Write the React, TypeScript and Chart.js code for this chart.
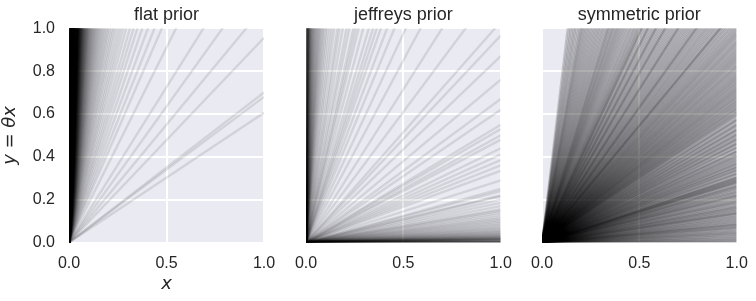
import React, { useEffect, useRef } from "react";
import { Chart, registerables } from "chart.js";

Chart.register(...registerables);

const panelTitles = ["flat prior", "jeffreys prior", "symmetric prior"];
const xTickValues = [0, 0.5, 1];
const yTickValues = [0, 0.2, 0.4, 0.6, 0.8, 1];
const xAxisLabel = "x";
const yAxisLabel = "y = θx";

const flatSlopes = [
  0.606, 0.68, 0.7, 0.956,
  1.1, 1.27, 1.45, 1.82,
  2.1, 2.28, 2.47, 2.66, 2.85, 3.02, 3.2, 3.41, 3.6, 3.78, 3.97, 4.18, 4.37, 4.55, 4.76, 4.95,
  5.12, 5.33, 5.5, 5.71, 5.9, 6.08, 6.3, 6.47, 6.66, 6.87, 7.05, 7.24, 7.43, 7.62, 7.8, 8.01,
  8.2, 8.38, 8.59, 8.77, 8.96, 9.18, 9.37, 9.55, 9.78, 9.95,
  10.15, 10.34, 10.52, 10.73, 10.9, 11.12, 11.3, 11.5, 11.71, 11.88, 12.1, 12.27, 12.5, 12.68,
  12.9, 13.07, 13.3, 13.48, 13.7, 13.88, 14.1, 14.3, 14.48, 14.7, 14.9, 15.08, 15.3, 15.5, 15.68,
  15.9, 16.1, 16.3, 16.47, 16.7, 16.88, 17.1, 17.28, 17.5, 17.7, 17.9, 18.08, 18.3, 18.5, 18.68,
  18.9, 19.1, 19.3, 19.48, 19.7, 19.9, 20.1, 20.28, 20.5, 20.7, 20.88, 21.1, 21.3, 21.48, 21.7,
  21.9, 22.1, 22.28, 22.5, 22.7, 22.9, 23.1, 23.3, 23.48, 23.7, 23.9, 24.1, 24.3, 24.5, 24.7, 24.9,
  25.0, 25.4, 25.9, 26.2, 26.6, 27.0, 27.5, 27.8, 28.2, 28.7, 29.1, 29.4, 29.9, 30.3, 30.6, 31.1,
  31.5, 31.8, 32.3, 32.7, 33.1, 33.5, 33.8, 34.3, 34.7, 35.2, 35.5, 35.9, 36.4, 36.8, 37.1, 37.6,
  38.0, 38.4, 38.8, 39.3, 39.6, 40.1, 40.5, 40.8, 41.3, 41.7, 42.2, 42.5, 43.0, 43.4, 43.7, 44.2,
  44.6, 45.1, 45.4, 45.9, 46.3, 46.7, 47.2, 47.5, 48.0, 48.4, 48.8, 49.3, 49.6, 50.1, 50.6, 51.0,
  51.3, 51.8, 52.2, 52.7, 53.0, 53.5, 53.9, 54.3, 54.8, 55.1, 55.6, 56.0, 56.5, 56.9, 57.3, 57.7,
  58.2, 58.5, 59.0, 59.4, 59.9,
  61, 63, 65, 67.5, 70, 72.5, 75, 78, 81, 84, 87.5, 91, 95, 99, 103, 108, 113, 118, 124, 130,
  137, 144, 152, 160, 170, 180, 192, 205, 220, 236, 255, 275, 300, 330, 365, 405, 450, 500, 560,
  640, 740, 860, 1000,
];

const jeffreysSlopes = [
  0.00005, 0.0002, 0.0006, 0.0011, 0.0019, 0.0028, 0.004, 0.0055, 0.0072, 0.0088,
  0.0104, 0.0118, 0.0135, 0.0146, 0.0158, 0.017, 0.0183, 0.0197, 0.021, 0.0228,
  0.0245, 0.0265, 0.0285, 0.031, 0.0335, 0.036, 0.039, 0.042, 0.0455, 0.049, 0.053, 0.057, 0.062,
  0.067, 0.072, 0.078, 0.084, 0.091, 0.098,
  0.105, 0.112, 0.12, 0.13, 0.14, 0.148, 0.155, 0.17, 0.185, 0.2, 0.215, 0.22, 0.24, 0.25, 0.29,
  0.335, 0.36, 0.385, 0.41, 0.44, 0.48, 0.5, 0.53, 0.55, 0.62, 0.67, 0.76, 0.87, 0.966,
  1.03, 1.22, 1.43, 1.7, 1.95, 2.2, 2.4, 2.6, 2.75, 2.9, 3.1, 3.4, 3.7, 3.9, 4.1, 4.5, 4.8, 5.3,
  5.8, 6.2, 6.9, 7.5, 8.2, 9.0, 9.7,
  10.5, 11.2, 12, 12.8, 13.6, 14.5, 15.3, 16.2, 17.2, 18.4, 19.6, 20.8, 22.3, 23.8, 25.4, 27.2,
  29, 31.2, 33.5, 36, 38.6, 41.4, 44.5, 48, 51.5, 55.3, 59.4, 64, 69, 74.5, 80.3, 86.5, 93,
  110, 140, 190, 260, 380, 560, 900, 1500, 3000, 8000,
];

const symmetricSlopes = [
  0.001, 0.004, 0.009, 0.012, 0.017, 0.021, 0.026, 0.03, 0.036, 0.039, 0.044, 0.047, 0.052, 0.056,
  0.061, 0.066, 0.069, 0.073, 0.078, 0.081, 0.084, 0.088, 0.092, 0.097, 0.101, 0.105, 0.11, 0.114,
  0.12, 0.123, 0.129, 0.133, 0.136, 0.139, 0.143, 0.148, 0.152, 0.156, 0.161, 0.164, 0.169, 0.172,
  0.179, 0.183, 0.188, 0.191, 0.195, 0.2, 0.205, 0.21, 0.215, 0.218, 0.221, 0.225, 0.231, 0.235,
  0.238, 0.244, 0.249, 0.252, 0.258, 0.261, 0.264, 0.269, 0.275, 0.279, 0.282, 0.285, 0.289, 0.292,
  0.296, 0.299,
  0.302, 0.306, 0.31, 0.318, 0.321, 0.324, 0.332, 0.336, 0.339, 0.346, 0.349, 0.354, 0.358, 0.364,
  0.368, 0.372, 0.377, 0.383, 0.387, 0.392, 0.398, 0.402, 0.407, 0.411, 0.418, 0.423, 0.426, 0.43,
  0.439, 0.443, 0.446, 0.455, 0.459, 0.463, 0.467, 0.476, 0.48, 0.484, 0.489, 0.497, 0.501, 0.506,
  0.511, 0.519, 0.524, 0.528, 0.533, 0.542, 0.546, 0.551, 0.556, 0.565, 0.57, 0.575, 0.579, 0.589,
  0.594, 0.599,
  0.605, 0.61, 0.615, 0.621, 0.626, 0.631, 0.637, 0.642, 0.647, 0.653, 0.659, 0.664, 0.67, 0.676,
  0.681, 0.687, 0.693, 0.699, 0.705, 0.71, 0.716, 0.722, 0.728, 0.734, 0.741, 0.747, 0.753, 0.76,
  0.766, 0.772, 0.779, 0.785, 0.792, 0.799, 0.806, 0.813, 0.82, 0.826, 0.833, 0.841, 0.848, 0.855,
  0.862, 0.87, 0.877, 0.885, 0.893, 0.9, 0.908, 0.916, 0.924, 0.932, 0.94, 0.948, 0.957, 0.965,
  0.973, 0.981, 0.99, 0.998,
  1.008, 1.016, 1.027, 1.036, 1.046, 1.057, 1.066, 1.077, 1.087, 1.092, 1.097, 1.108, 1.12, 1.13,
  1.142, 1.153, 1.165, 1.177, 1.188, 1.2, 1.213, 1.226, 1.238, 1.252, 1.26, 1.266, 1.279, 1.293,
  1.307, 1.322, 1.337, 1.352, 1.368, 1.383, 1.4, 1.416, 1.43, 1.433, 1.45, 1.468, 1.486, 1.505,
  1.524, 1.544, 1.564, 1.58, 1.585, 1.606, 1.628, 1.65, 1.673, 1.696, 1.71, 1.72, 1.745, 1.77,
  1.796, 1.823, 1.84, 1.85, 1.88, 1.91, 1.94, 1.955, 1.97, 2.0,
  2.02, 2.05, 2.08, 2.11, 2.14, 2.18, 2.21, 2.25, 2.29, 2.33, 2.37, 2.41, 2.45, 2.49, 2.53, 2.57,
  2.61, 2.65, 2.7, 2.74, 2.78, 2.83, 2.88, 2.93, 2.97,
  3.03, 3.1, 3.17, 3.24, 3.32, 3.4, 3.48, 3.57, 3.66, 3.76, 3.86, 3.97, 4.08, 4.2, 4.32, 4.45,
  4.58, 4.72, 4.86, 4.98,
  5.15, 5.35, 5.6, 5.85, 6.1, 6.4, 6.75, 7.1, 7.6,
];

const TEXT_FONT = "'Liberation Sans', Arial, sans-serif";
const MATH_FONT = "'DejaVu Sans', sans-serif";
const TEXT_COLOR = "#262626";

const bgPlugin = {
  id: "panelBg",
  beforeDraw(chart: any) {
    const { ctx, chartArea } = chart;
    if (!chartArea) return;
    ctx.save();
    ctx.fillStyle = "#EAEAF2";
    ctx.fillRect(chartArea.left, chartArea.top, chartArea.right - chartArea.left, chartArea.bottom - chartArea.top);
    ctx.restore();
  },
};

const titlePlugin = {
  id: "panelTitle",
  afterDraw(chart: any, _args: any, opts: any) {
    const { ctx, chartArea } = chart;
    ctx.save();
    ctx.font = `18px ${TEXT_FONT}`;
    ctx.fillStyle = TEXT_COLOR;
    ctx.textAlign = "center";
    ctx.textBaseline = "middle";
    ctx.fillText(opts.text, (chartArea.left + chartArea.right) / 2, opts.y);
    ctx.restore();
  },
};

type PanelProps = {
  slopes: number[];
  title: string;
  showY: boolean;
  showXLabel: boolean;
  left: number;
  width: number;
  padLeft: number;
  padRight: number;
  yAxisWidth: number;
  alpha: number;
  lineWidth: number;
};

function Panel(p: PanelProps) {
  const ref = useRef<HTMLCanvasElement>(null);
  useEffect(() => {
    const canvas = ref.current!;
    const datasets = p.slopes.map((s) => ({
      data: [
        { x: 0, y: 0 },
        { x: 1, y: s },
      ],
      borderColor: `rgba(0,0,0,${p.alpha})`,
      borderWidth: p.lineWidth,
      pointRadius: 0,
      tension: 0,
      fill: false,
    }));
    const chart = new Chart(canvas, {
      type: "line",
      data: { datasets },
      plugins: [bgPlugin as any, titlePlugin as any],
      options: {
        animation: false,
        responsive: false,
        devicePixelRatio: 1,
        events: [],
        layout: { padding: { left: p.padLeft, right: p.padRight, top: 28.3, bottom: 0 } },
        plugins: {
          legend: { display: false },
          tooltip: { enabled: false },
          title: { display: false },
          panelTitle: { text: p.title, y: 15.5 },
        } as any,
        scales: {
          x: {
            type: "linear",
            min: 0,
            max: 1,
            afterBuildTicks: (s: any) => {
              s.ticks = xTickValues.map((v) => ({ value: v }));
            },
            afterFit: (s: any) => {
              s.height = 58.5;
              s.paddingLeft = 0;
              s.paddingRight = 0;
            },
            border: { display: false },
            grid: { color: "#FFFFFF", lineWidth: 2, drawTicks: false },
            ticks: {
              padding: 11,
              color: TEXT_COLOR,
              font: { family: TEXT_FONT, size: 16 },
              maxRotation: 0,
              callback: (v: any) => Number(v).toFixed(1),
            },
            title: {
              display: p.showXLabel,
              text: xAxisLabel,
              color: TEXT_COLOR,
              font: { family: MATH_FONT, size: 18, style: "italic" },
              padding: { top: 0, bottom: 5.7 },
            },
          },
          y: {
            type: "linear",
            min: 0,
            max: 1,
            afterBuildTicks: (s: any) => {
              s.ticks = yTickValues.map((v) => ({ value: v }));
            },
            afterFit: (s: any) => {
              s.width = p.yAxisWidth;
              s.paddingTop = 0;
              s.paddingBottom = 0;
            },
            border: { display: false },
            grid: { color: "#FFFFFF", lineWidth: 2, drawTicks: false },
            ticks: {
              display: p.showY,
              padding: 14,
              color: TEXT_COLOR,
              font: { family: TEXT_FONT, size: 16 },
              callback: (v: any) => Number(v).toFixed(1),
            },
            title: {
              display: p.showY,
              text: yAxisLabel,
              color: TEXT_COLOR,
              font: { family: MATH_FONT, size: 18, style: "italic" },
              padding: { top: 0, bottom: 0 },
            },
          },
        },
      } as any,
    });
    return () => chart.destroy();
  }, []);
  return (
    <canvas
      ref={ref}
      width={p.width}
      height={301}
      style={{ position: "absolute", left: p.left, top: 0, width: p.width, height: 301 }}
    />
  );
}

export default function App() {
  return (
    <div style={{ position: "absolute", left: 0, top: 0, width: 756, height: 301, background: "#FFFFFF" }}>
      <Panel slopes={flatSlopes} title={panelTitles[0]} showY={true} showXLabel={true}
        left={0} width={280} padLeft={0} padRight={16} yAxisWidth={69} alpha={0.1} lineWidth={2.4} />
      <Panel slopes={jeffreysSlopes} title={panelTitles[1]} showY={false} showXLabel={false}
        left={280} width={240} padLeft={26} padRight={19.3} yAxisWidth={0} alpha={0.1} lineWidth={2.4} />
      <Panel slopes={symmetricSlopes} title={panelTitles[2]} showY={false} showXLabel={false}
        left={516} width={240} padLeft={26} padRight={19.3} yAxisWidth={0} alpha={0.17} lineWidth={2.2} />
    </div>
  );
}
